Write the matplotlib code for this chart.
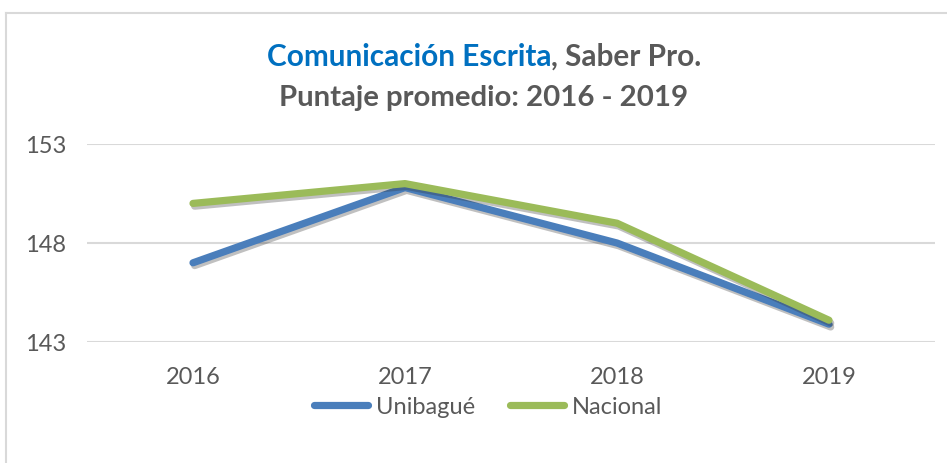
import matplotlib
matplotlib.use("Agg")
import matplotlib.pyplot as plt
import matplotlib.patheffects as pe
from matplotlib.lines import Line2D

years = ["2016", "2017", "2018", "2019"]
unibague = [147.0, 150.8, 148.0, 143.9]
nacional = [150.0, 151.0, 149.0, 144.1]
yticks = [143, 148, 153]

FONT = ["Lato", "DejaVu Sans"]
plt.rcParams["font.family"] = FONT
GRAY = "#595959"
BLUE = "#4A7EBB"
GREEN = "#9BBB59"

W, H = 947, 464
fig = plt.figure(figsize=(W / 100, H / 100), dpi=100)
ax = fig.add_axes([87 / W, (H - 343) / H, (935 - 87) / W, (343 - 145) / H])

x = list(range(len(years)))
shadow = [pe.SimpleLineShadow(offset=(1.2, -2.0), shadow_color="#303030", alpha=0.3), pe.Normal()]
ax.plot(x, unibague, color=BLUE, lw=5.2, solid_capstyle="round", solid_joinstyle="round",
        path_effects=shadow, label="Unibagué", zorder=3)
ax.plot(x, nacional, color=GREEN, lw=5.2, solid_capstyle="round", solid_joinstyle="round",
        path_effects=shadow, label="Nacional", zorder=4)

ax.set_xlim(-0.5, len(years) - 0.5)
ax.set_ylim(143, 153)
ax.set_yticks(yticks)
ax.set_xticks(x)
ax.set_xticklabels(years)
ax.grid(axis="y", color="#d9d9d9", lw=1.5)
ax.set_axisbelow(True)
for s in ax.spines.values():
    s.set_visible(False)
ax.tick_params(axis="both", length=0, labelsize=17, colors=GRAY)
ax.tick_params(axis="x", pad=17)
ax.tick_params(axis="y", pad=15)

leg = fig.legend(handles=[Line2D([0], [0], color=BLUE, lw=5.2, solid_capstyle="round"),
                          Line2D([0], [0], color=GREEN, lw=5.2, solid_capstyle="round")],
                 labels=["Unibagué", "Nacional"], loc="center", bbox_to_anchor=(488 / W, (H - 408) / H),
                 ncol=2, frameon=False, fontsize=17, handlelength=2.3, handletextpad=0.3,
                 columnspacing=1.5, labelcolor=GRAY)

# Title with two colours
fig.canvas.draw()
r = fig.canvas.get_renderer()
t1 = fig.text(0, 0, "Comunicación Escrita", fontsize=20, fontweight="bold", color="#0070C0")
t2 = fig.text(0, 0, ", Saber Pro.", fontsize=20, fontweight="bold", color=GRAY)
t3 = fig.text(0, 0, "Puntaje promedio: 2016 - 2019", fontsize=20, fontweight="bold",
              color=GRAY, ha="center")
w1 = t1.get_window_extent(r).width
w2 = t2.get_window_extent(r).width
w3 = t3.get_window_extent(r).width
fs = 20 * 435 / (w1 + w2)
fs3 = 20 * 410 / w3
t1.set_fontsize(fs)
t2.set_fontsize(fs)
t3.set_fontsize(fs3)
w1 = t1.get_window_extent(r).width
w2 = t2.get_window_extent(r).width
cx = 484
x0 = cx - (w1 + w2) / 2
t1.set_position((x0 / W, (H - 66) / H))
t2.set_position(((x0 + w1) / W, (H - 66) / H))
t3.set_position((cx / W, (H - 106) / H))

# Chart border (left and top visible)
fig.add_artist(Line2D([6 / W, 6 / W], [0, (H - 14) / H], color="#d9d9d9", lw=1.5))
fig.add_artist(Line2D([6 / W, 1], [(H - 14) / H, (H - 14) / H], color="#d9d9d9", lw=1.5))

fig.savefig("out.png", dpi=100)
